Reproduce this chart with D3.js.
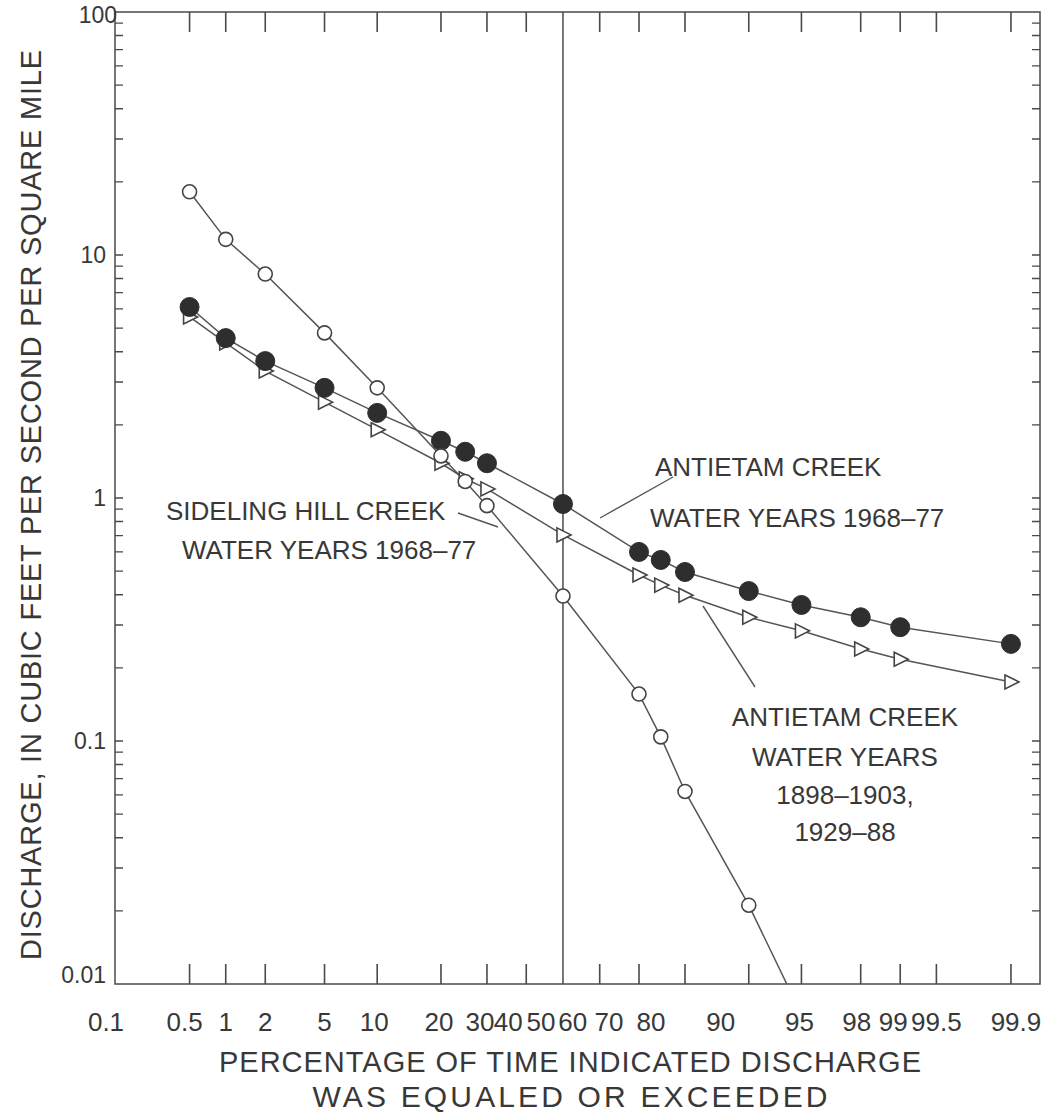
<!DOCTYPE html>
<html>
<head>
<meta charset="utf-8">
<script src="https://cdn.jsdelivr.net/npm/d3@7"></script>
<style>
  html, body { margin: 0; padding: 0; background: #fff; }
  svg { display: block; }
  text { font-family: "Liberation Sans", Arial, Helvetica, sans-serif; fill: #383838; }
</style>
</head>
<body>
<svg id="chart"></svg>
<script>
// percentage of time the discharge was equaled or exceeded
const percents = [0.5, 1, 2, 5, 10, 20, 25, 30, 50, 70, 75, 80, 90, 95, 98, 99, 99.9];

// discharge, in cubic feet per second per square mile
const antietam6877 = [6.11, 4.55, 3.66, 2.84, 2.24, 1.72, 1.55, 1.39, 0.945, 0.60, 0.556, 0.496, 0.414, 0.363, 0.323, 0.294, 0.251];
const antietamLong = [5.56, 4.35, 3.33, 2.48, 1.91, 1.39, 1.2, 1.09, 0.705, 0.482, 0.438, 0.398, 0.323, 0.284, 0.239, 0.217, 0.175];
const sidelingHill = [18.2, 11.6, 8.35, 4.78, 2.84, 1.49, 1.17, 0.93, 0.395, 0.156, 0.104, 0.062, 0.0211, 0.0075];

const xTicks = [0.1, 0.5, 1, 2, 5, 10, 20, 30, 40, 50, 60, 70, 80, 90, 95, 98, 99, 99.5, 99.9];
const yTicks = [0.01, 0.1, 1, 10, 100];

const width = 1057, height = 1113;
const plotLeft = 115, plotRight = 1040, plotTop = 12, plotBottom = 984;
const ink = "#4a4a4a";

// inverse of the standard normal CDF (Acklam)
function probit(p) {
    const a = [-39.69683028665376, 220.9460984245205, -275.9285104469687, 138.3577518672690, -30.66479806614716, 2.506628277459239];
    const b = [-54.47609879822406, 161.5858368580409, -155.6989798598866, 66.80131188771972, -13.28068155288572];
    const c = [-0.007784894002430293, -0.3223964580411365, -2.400758277161838, -2.549732539343734, 4.374664141464968, 2.938163982698783];
    const e = [0.007784695709041462, 0.3224671290700398, 2.445134137142996, 3.754408661907416];
    let q, r;
    if (p < 0.02425) {
        q = Math.sqrt(-2 * Math.log(p));
        return (((((c[0]*q+c[1])*q+c[2])*q+c[3])*q+c[4])*q+c[5]) / ((((e[0]*q+e[1])*q+e[2])*q+e[3])*q+1);
    }
    if (p > 1 - 0.02425) {
        q = Math.sqrt(-2 * Math.log(1 - p));
        return -(((((c[0]*q+c[1])*q+c[2])*q+c[3])*q+c[4])*q+c[5]) / ((((e[0]*q+e[1])*q+e[2])*q+e[3])*q+1);
    }
    q = p - 0.5;
    r = q * q;
    return (((((a[0]*r+a[1])*r+a[2])*r+a[3])*r+a[4])*r+a[5])*q / (((((b[0]*r+b[1])*r+b[2])*r+b[3])*r+b[4])*r+1);
}

// probability scale: linear in normal deviates
const xz = d3.scaleLinear()
    .domain([probit(0.001), probit(0.9995)])
    .range([plotLeft, plotRight]);
const x = p => xz(probit(p / 100));

const y = d3.scaleLog()
    .domain([0.01, 100])
    .range([plotBottom, plotTop]);

const svg = d3.select("#chart")
    .attr("width", width)
    .attr("height", height);

svg.append("rect").attr("width", width).attr("height", height).attr("fill", "#fff");

svg.append("defs").append("clipPath").attr("id", "plot")
    .append("rect")
    .attr("x", plotLeft).attr("y", plotTop)
    .attr("width", plotRight - plotLeft).attr("height", plotBottom - plotTop);

// x ticks, top and bottom, pointing in, drawn as one path
const xTickGen = d3.line();
const xTickSegs = [];
xTicks.forEach(function (p) {
    if (p > 0.1 && p !== 50) {
        xTickSegs.push([[x(p), plotBottom], [x(p), plotBottom - 20]]);
        xTickSegs.push([[x(p), plotTop], [x(p), plotTop + 20]]);
    }
});
svg.append("path")
    .attr("d", xTickSegs.map(s => xTickGen(s)).join(""))
    .attr("fill", "none")
    .attr("stroke", ink)
    .attr("stroke-width", 1.6);

// median line
svg.append("line")
    .attr("x1", x(50)).attr("x2", x(50))
    .attr("y1", plotTop).attr("y2", plotBottom)
    .attr("stroke", ink).attr("stroke-width", 1.5);

// y log ticks on both sides
let tickPath = d3.path();
[0.01, 0.1, 1, 10].forEach(function (dec) {
    for (let k = 1; k < 10; k++) {
        let v = dec * k;
        if (v <= 0.01) continue;
        tickPath.moveTo(plotLeft, y(v));
        tickPath.lineTo(plotLeft + 8, y(v));
        tickPath.moveTo(plotRight, y(v));
        tickPath.lineTo(plotRight - 8, y(v));
    }
});
svg.append("path")
    .attr("d", tickPath.toString())
    .attr("fill", "none")
    .attr("stroke", ink)
    .attr("stroke-width", 1.4);

// frame
svg.append("rect")
    .attr("x", plotLeft).attr("y", plotTop)
    .attr("width", plotRight - plotLeft).attr("height", plotBottom - plotTop)
    .attr("fill", "none").attr("stroke", ink).attr("stroke-width", 1.5);

// tick labels
const labelNudge = {0.1: -9, 0.5: -5, 10: -3, 20: -2, 30: -7, 40: -18, 50: -22, 60: -27, 70: -30, 80: -34, 90: -28, 95: -2, 98: -4, 99: -7, 99.9: 5};
svg.append("g").selectAll("text")
    .data(xTicks)
    .enter().append("text")
    .attr("x", d => x(d) + (labelNudge[d] || 0))
    .attr("y", 1031)
    .attr("text-anchor", "middle")
    .attr("font-size", 26)
    .text(d => String(d));

const yLabelNudge = {100: [11, 3], 0.01: [0, -9]};
svg.append("g").selectAll("text")
    .data(yTicks)
    .enter().append("text")
    .attr("x", d => 106 + (yLabelNudge[d] ? yLabelNudge[d][0] : 0))
    .attr("y", d => y(d) + 8 + (yLabelNudge[d] ? yLabelNudge[d][1] : 0))
    .attr("text-anchor", "end")
    .attr("font-size", 23)
    .text(d => String(d));

// axis titles
svg.append("text")
    .attr("transform", "translate(41,505) rotate(-90)")
    .attr("text-anchor", "middle")
    .attr("font-size", 29)
    .attr("textLength", 910)
    .attr("lengthAdjust", "spacing")
    .text("DISCHARGE, IN CUBIC FEET PER SECOND PER SQUARE MILE");
svg.append("text")
    .attr("x", 570).attr("y", 1072)
    .attr("text-anchor", "middle")
    .attr("font-size", 29)
    .attr("textLength", 702)
    .attr("lengthAdjust", "spacing")
    .text("PERCENTAGE OF TIME INDICATED DISCHARGE");
svg.append("text")
    .attr("x", 570).attr("y", 1107)
    .attr("text-anchor", "middle")
    .attr("font-size", 30)
    .attr("textLength", 515)
    .attr("lengthAdjust", "spacing")
    .text("WAS EQUALED OR EXCEEDED");

// series
function points(values) {
    return values.map((v, i) => ({p: percents[i], v: v}));
}
const series = [
    {name: "long", data: points(antietamLong), marker: "triangle"},
    {name: "a6877", data: points(antietam6877), marker: "filled"},
    {name: "sideling", data: points(sidelingHill), marker: "open"}
];

const line = d3.line()
    .x(d => x(d.p))
    .y(d => y(d.v));

const plot = svg.append("g").attr("clip-path", "url(#plot)");

series.forEach(function (s) {
    plot.append("path")
        .datum(s.data)
        .attr("d", line)
        .attr("fill", "none")
        .attr("stroke", "#555")
        .attr("stroke-width", 1.5);
});

series.forEach(function (s) {
    let g = plot.append("g").selectAll("g")
        .data(s.data)
        .enter().append("g")
        .attr("transform", d => "translate(" + x(d.p) + "," + y(d.v) + ")");
    if (s.marker === "triangle") {
        g.append("path")
            .attr("d", "M-6,-7L8,0L-6,7Z")
            .attr("fill", "#fff").attr("stroke", "#444").attr("stroke-width", 1.6);
    } else if (s.marker === "filled") {
        g.append("circle").attr("r", 9.5)
            .attr("fill", "#2e2e2e").attr("stroke", "#2e2e2e");
    } else {
        g.append("circle").attr("r", 7)
            .attr("fill", "#fff").attr("stroke", "#444").attr("stroke-width", 1.6);
    }
});

// annotations
const leaders = [
    [[600, 518], [673, 477]],
    [[458, 513], [498, 527]],
    [[703, 606], [755, 687]]
];
svg.append("g").selectAll("line")
    .data(leaders)
    .enter().append("line")
    .attr("x1", d => d[0][0]).attr("y1", d => d[0][1])
    .attr("x2", d => d[1][0]).attr("y2", d => d[1][1])
    .attr("stroke", "#555").attr("stroke-width", 1.4);

function note(str, px, py, anchor) {
    svg.append("text")
        .attr("x", px).attr("y", py)
        .attr("text-anchor", anchor)
        .attr("font-size", 26)
        .text(str);
}
note("ANTIETAM CREEK", 655, 476, "start");
note("WATER YEARS 1968\u201377", 650, 527, "start");
note("SIDELING HILL CREEK", 166, 520, "start");
note("WATER YEARS 1968\u201377", 182, 559, "start");
note("ANTIETAM CREEK", 845, 726, "middle");
note("WATER YEARS", 845, 766, "middle");
note("1898\u20131903,", 845, 804, "middle");
note("1929\u201388", 845, 841, "middle");
</script>
</body>
</html>
